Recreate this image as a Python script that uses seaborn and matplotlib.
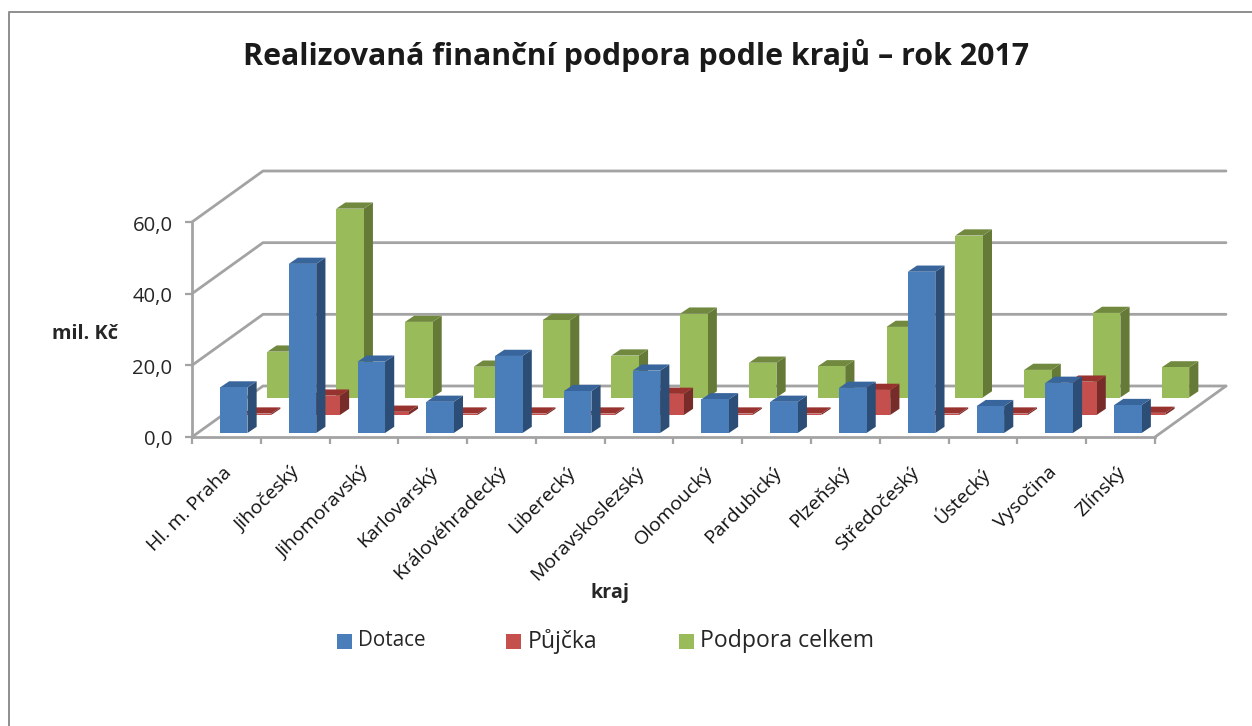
import matplotlib
matplotlib.use("Agg")
import matplotlib.pyplot as plt
from matplotlib.lines import Line2D
from matplotlib.patches import Polygon, Rectangle
from matplotlib.ticker import FixedLocator, FuncFormatter
from matplotlib.transforms import Affine2D, IdentityTransform
import pandas as pd
import seaborn as sns

kraje = ["Hl. m. Praha", "Jihočeský", "Jihomoravský", "Karlovarský", "Královéhradecký",
         "Liberecký", "Moravskoslezský", "Olomoucký", "Pardubický", "Plzeňský",
         "Středočeský", "Ústecký", "Vysočina", "Zlínský"]
dotace = [12.7, 47.2, 19.9, 8.7, 21.5, 11.7, 17.4, 9.4, 8.7, 12.6, 45.0, 7.5, 14.0, 7.8]
pujcka = [0.4, 5.4, 0.9, 0.4, 0.4, 0.4, 5.9, 0.4, 0.4, 7.0, 0.4, 0.4, 9.3, 0.6]
celkem = [12.8, 52.7, 21.1, 8.6, 21.6, 11.7, 23.4, 9.7, 8.7, 19.7, 45.2, 7.7, 23.6, 8.4]
serie = ["Dotace", "Půjčka", "Podpora celkem"]

W, H = 1252, 726
sns.set_theme(style="white")
font = ["Open Sans", "DejaVu Sans"]
plt.rcParams["font.family"] = font

fig = plt.figure(figsize=(W / 100, H / 100), dpi=100, facecolor="white")
ax = fig.add_axes([192 / W, (H - 437) / H, 963 / W, 215 / H])
ax.patch.set_visible(False)

df = pd.DataFrame({
    "kraj": kraje * 3,
    "serie": [s for s in serie for _ in kraje],
    "hodnota": dotace + pujcka + celkem,
})
front = {"Dotace": "#4A7EBB", "Půjčka": "#C44F4C", "Podpora celkem": "#9ABB59"}
side = {"Dotace": "#2C4D75", "Půjčka": "#772C2A", "Podpora celkem": "#667A37"}
top = {"Dotace": "#38659B", "Půjčka": "#98322F", "Podpora celkem": "#71893F"}
shift = {"Dotace": (7.3, 4), "Půjčka": (31.0, 22), "Podpora celkem": (54.8, 39.5)}
layer = {"Dotace": 6, "Půjčka": 5, "Podpora celkem": 4}

sns.barplot(data=df, x="kraj", y="hodnota", hue="serie", hue_order=serie, order=kraje,
            palette=front, dodge=False, width=0.4, saturation=1, legend=False, ax=ax,
            edgecolor="none", linewidth=0)
ax.set_xlim(-0.5, 13.5)
ax.set_ylim(0, 60)

GRID = "#A3A3A3"
DX, DY = 71, 51
P = IdentityTransform()


def glin(xs, ys, z=1, lw=2.0):
    ax.add_artist(Line2D(xs, ys, transform=P, color=GRID, lw=lw, clip_on=False,
                         zorder=z, solid_capstyle="round", solid_joinstyle="round"))


for v in [0, 20, 40, 60]:
    x0, y0 = ax.transData.transform((-0.5, v))
    x1, _ = ax.transData.transform((13.5, v))
    glin([x0, x0 + DX, x1 + DX], [y0, y0 + DY, y0 + DY])
x0, y0 = ax.transData.transform((-0.5, 0))
x1, _ = ax.transData.transform((13.5, 0))
glin([x1, x1 + DX], [y0, y0 + DY])

# extrusion of every bar: side and top faces derived from the drawn bars
for name, cont in zip(serie, ax.containers):
    sx, sy = shift[name]
    z = layer[name]
    dx, dy = 9.2, 6.2
    for bar in cont:
        bar.set_transform(ax.transData + Affine2D().translate(sx, sy))
        bar.set_clip_on(False)
        bar.set_zorder(z + 0.2)
        l, b = ax.transData.transform((bar.get_x(), 0))
        r, t = ax.transData.transform((bar.get_x() + bar.get_width(), bar.get_height()))
        l, r, b, t = l + sx, r + sx, b + sy, t + sy
        ax.add_patch(Polygon([(r, b), (r + dx, b + dy), (r + dx, t + dy), (r, t)],
                             transform=P, facecolor=side[name], edgecolor="none",
                             linewidth=0, clip_on=False, zorder=z))
        ax.add_patch(Polygon([(l, t), (r, t), (r + dx, t + dy), (l + dx, t + dy)],
                             transform=P, facecolor=top[name], edgecolor="none",
                             linewidth=0, clip_on=False, zorder=z + 0.1))

for sp in ["top", "right"]:
    ax.spines[sp].set_visible(False)
for sp in ["left", "bottom"]:
    ax.spines[sp].set_color(GRID)
    ax.spines[sp].set_linewidth(2.0)

ax.set_yticks([0, 20, 40, 60])
ax.yaxis.set_major_formatter(FuncFormatter(lambda v, _: f"{v:.1f}".replace(".", ",")))
ax.tick_params(axis="y", left=True, length=5, width=1.6, color=GRID, labelsize=14.6,
               labelcolor="#262626", pad=9)
ax.xaxis.set_minor_locator(FixedLocator([i - 0.5 for i in range(15)]))
ax.tick_params(axis="x", which="minor", bottom=True, length=5, width=1.6, color=GRID)
ax.tick_params(axis="x", which="major", bottom=False, length=0, pad=19, labelsize=14.0,
               labelcolor="#111111")
plt.setp(ax.get_xticklabels(), rotation=45, ha="right", rotation_mode="anchor")
fig.canvas.draw()
for lab in ax.get_xticklabels():
    lab.set_transform(lab.get_transform() + Affine2D().translate(-4, 0))
for lab in ax.get_yticklabels():
    lab.set_transform(lab.get_transform() + Affine2D().translate(0, -1))

ax.set_xlabel("")
ax.set_ylabel("")
fig.text(636.5 / W, 1 - 55 / H, "Realizovaná finanční podpora podle krajů – rok 2017",
         ha="center", va="center", fontsize=21.85, fontweight="bold", color="#1A1A1A")
fig.text(85.5 / W, 1 - 334 / H, "mil. Kč", ha="center", va="center", fontsize=14.4,
         fontweight="bold", color="#262626")
fig.text(609.5 / W, 1 - 593 / H, "kraj", ha="center", va="center", fontsize=14.2,
         fontweight="bold", color="#262626")

leg_x = [(337, 358, 14.9), (506, 528, 16.6), (679, 700, 16.6)]
for name, (sq, tx, fs) in zip(serie, leg_x):
    fig.add_artist(Rectangle((sq, H - 649), 15, 15, transform=P, facecolor=front[name],
                             edgecolor="none", linewidth=0))
    fig.text(tx / W, 1 - 641 / H, name, ha="left", va="center", fontsize=fs, color="#262626")

frame = "#8E8E8E"
fig.add_artist(Line2D([9, 9, W], [0, H - 12, H - 12], transform=P, color=frame, lw=1.4))

fig.savefig("out.png", dpi=100)
